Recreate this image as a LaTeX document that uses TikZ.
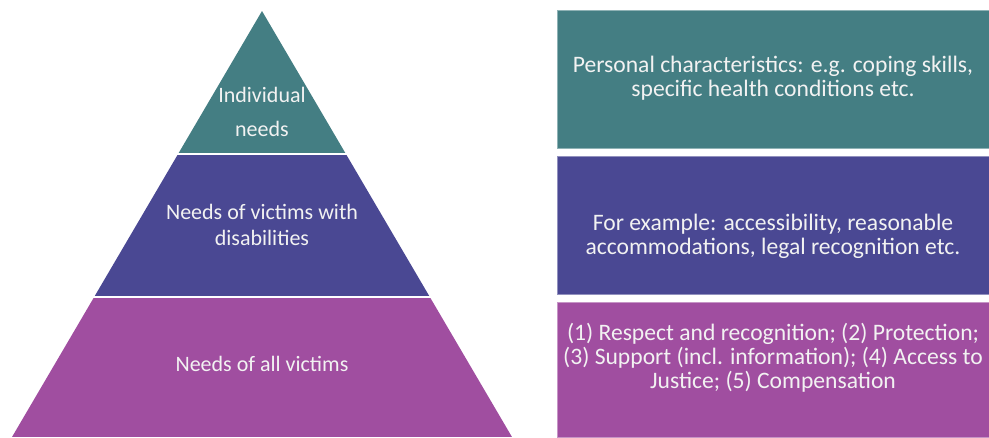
\documentclass[tikz,border=0pt]{standalone}
\usepackage{fontspec}
\setmainfont{Carlito}
\usepackage{xcolor}
\usepackage{tikz}
\usetikzlibrary{positioning}
\definecolor{needteal}{HTML}{447E83}
\definecolor{needindigo}{HTML}{4A4893}
\definecolor{needplum}{HTML}{A04EA0}
\definecolor{needtext}{HTML}{F2F2F2}
\tikzset{
  lvl/.style={text=needtext, align=center, inner sep=0pt, font=\fontsize{16.5}{19.5}\selectfont},
  info/.style={lvl, font=\fontsize{17.7}{18}\selectfont},
  sidebox/.style={anchor=north west, inner sep=0pt, minimum width=324pt},
}

\begin{document}
\begin{tikzpicture}[x=0.75pt, y=-0.75pt]
  \useasboundingbox (0,0) rectangle (989,437);

  % pyramid, cut into three bands
  \coordinate (apex) at (262,11);
  \coordinate (baseL) at (12,437);
  \coordinate (baseR) at (512,437);
  \begin{scope}
    \clip (apex) -- (baseR) -- (baseL) -- cycle;
    \fill[needteal] (0,0) rectangle (560,153);
    \fill[needindigo] (0,155) rectangle (560,296);
    \fill[needplum] (0,298) rectangle (560,437);
  \end{scope}

  \node[lvl, font=\fontsize{16.5}{26}\selectfont] (indiv) at (262,112) {Individual\\ needs};
  \node[lvl] (disab) at (262,225) {Needs of victims with\\ disabilities};
  \node[lvl] (allv) at (262,364) {Needs of all victims};

  % boxes on the right
  \node[sidebox, fill=needteal, draw=needteal!60!white, minimum height=103.5pt] (boxA) at (557,10) {};
  \node[sidebox, fill=needindigo, draw=needindigo!60!white, minimum height=103.5pt] (boxB) at (557,156) {};
  \node[sidebox, fill=needplum, draw=needplum!60!white, minimum height=101.25pt] (boxC) at (557,302) {};

  \node[info] (txtA) at (773,78) {Personal characteristics: e.g. coping skills,\\ specific health conditions etc.};
  \node[info] (txtB) at (773,236) {For example: accessibility, reasonable\\ accommodations, legal recognition etc.};
  \node[info] (txtC) at (773,358) {(1) Respect and recognition; (2) Protection;\\ (3) Support (incl. information); (4) Access to\\ Justice; (5) Compensation};
\end{tikzpicture}
\end{document}
